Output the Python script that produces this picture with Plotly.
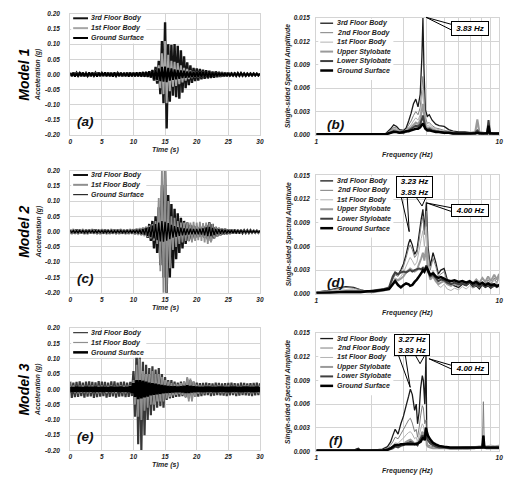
import numpy as np
import plotly.graph_objects as go

# ---------------- DATA ----------------
time_s = np.arange(0, 30.001, 0.25)  # sampling grid (s)

time_names = ["3rd Floor Body", "1st Floor Body", "Ground Surface"]
spec_names = ["3rd Floor Body", "2nd Floor Body", "1st Floor Body",
              "Upper Stylobate", "Lower Stylobate", "Ground Surface"]
model_labels = ["Model 1", "Model 2", "Model 3"]
panel_letters = ["(a)", "(b)", "(c)", "(d)", "(e)", "(f)"]

time_tickvals = [0, 5, 10, 15, 20, 25, 30]
time_ticktext = ["0", "5", "10", "15", "20", "25", "30"]
acc_tickvals = [-0.20, -0.15, -0.10, -0.05, 0.00, 0.05, 0.10, 0.15, 0.20]
acc_ticktext = ["-0.20", "-0.15", "-0.10", "-0.05", "0.00", "0.05", "0.10", "0.15", "0.20"]
freq_tickvals = [1, 2, 3, 4, 5, 6, 7, 8, 9, 10]
freq_ticktext = ["1", "", "", "", "", "", "", "", "", "10"]
amp_tickvals = [0.000, 0.003, 0.006, 0.009, 0.012, 0.015]
amp_ticktext = ["0.000", "0.003", "0.006", "0.009", "0.012", "0.015"]

# Model 1 accelerations (g)
a_3rd = [0.004,-0.005,0.006,-0.004, 0.005,-0.004,0.004,-0.006, 0.006,-0.005,0.004,-0.005,
         0.004,-0.006,0.005,-0.004, 0.005,-0.004,0.006,-0.005, 0.004,-0.005,0.005,-0.004,
         0.006,-0.004,0.005,-0.006, 0.004,-0.005,0.004,-0.005, 0.005,-0.006,0.005,-0.004,
         0.006,-0.004,0.005,-0.005, 0.005,-0.006,0.004,-0.005, 0.006,-0.005,0.007,-0.006,
         0.008,-0.007,0.010,-0.009, 0.015,-0.020,0.025,-0.030, 0.045,-0.065,0.110,-0.095,
         0.172,-0.178,0.100,-0.090, 0.098,-0.070,0.100,-0.075, 0.095,-0.080,0.080,-0.060,
         0.060,-0.045,0.040,-0.035, 0.030,-0.028,0.022,-0.022, 0.020,-0.020,0.018,-0.016,
         0.016,-0.014,0.014,-0.013, 0.012,-0.012,0.010,-0.011, 0.010,-0.009,0.009,-0.008,
         0.008,-0.007,0.007,-0.006, 0.006,-0.005,0.005,-0.005, 0.005,-0.004,0.004,-0.004,
         0.004,-0.004,0.003,-0.004, 0.003,-0.003,0.003,-0.003, 0.003,-0.003,0.002,-0.003,
         0.002]
a_1st = [0.003,-0.003,0.002,-0.003, 0.003,-0.002,0.003,-0.003, 0.002,-0.003,0.003,-0.002,
         0.003,-0.003,0.002,-0.003, 0.003,-0.002,0.003,-0.003, 0.002,-0.003,0.003,-0.002,
         0.003,-0.003,0.002,-0.003, 0.003,-0.002,0.003,-0.003, 0.002,-0.003,0.003,-0.002,
         0.003,-0.003,0.003,-0.003, 0.003,-0.004,0.003,-0.003, 0.004,-0.004,0.005,-0.004,
         0.005,-0.006,0.007,-0.006, 0.010,-0.012,0.015,-0.020, 0.030,-0.045,0.070,-0.065,
         0.110,-0.095,0.065,-0.055, 0.045,-0.040,0.042,-0.038, 0.038,-0.032,0.030,-0.026,
         0.022,-0.020,0.018,-0.015, 0.013,-0.012,0.010,-0.010, 0.009,-0.009,0.008,-0.008,
         0.008,-0.007,0.007,-0.006, 0.006,-0.006,0.005,-0.005, 0.005,-0.005,0.004,-0.004,
         0.004,-0.004,0.004,-0.003, 0.003,-0.003,0.003,-0.003, 0.003,-0.002,0.002,-0.002,
         0.002,-0.002,0.002,-0.002, 0.002,-0.002,0.002,-0.002, 0.002,-0.002,0.002,-0.002,
         0.002]
a_ground = [0.006,-0.005,0.005,-0.007, 0.005,-0.006,0.007,-0.005, 0.006,-0.006,0.005,-0.006,
            0.007,-0.005,0.006,-0.006, 0.005,-0.007,0.006,-0.005, 0.006,-0.005,0.007,-0.006,
            0.005,-0.006,0.005,-0.007, 0.007,-0.006,0.006,-0.005, 0.006,-0.005,0.005,-0.006,
            0.005,-0.007,0.006,-0.006, 0.006,-0.006,0.007,-0.006, 0.007,-0.007,0.008,-0.007,
            0.008,-0.008,0.009,-0.010, 0.012,-0.014,0.015,-0.018, 0.020,-0.022,0.025,-0.024,
            0.026,-0.025,0.022,-0.020, 0.020,-0.018,0.017,-0.016, 0.015,-0.014,0.013,-0.012,
            0.012,-0.011,0.010,-0.010, 0.010,-0.009,0.009,-0.009, 0.009,-0.008,0.008,-0.008,
            0.008,-0.007,0.007,-0.007, 0.007,-0.007,0.006,-0.006, 0.006,-0.006,0.006,-0.005,
            0.005,-0.005,0.005,-0.005, 0.005,-0.004,0.004,-0.004, 0.004,-0.004,0.004,-0.004,
            0.004,-0.003,0.003,-0.004, 0.003,-0.003,0.003,-0.003, 0.003,-0.003,0.003,-0.003,
            0.003]

# Model 2 accelerations (g)
c_3rd = [0.006,-0.007,0.005,-0.006, 0.007,-0.006,0.006,-0.005, 0.005,-0.007,0.006,-0.006,
         0.006,-0.005,0.007,-0.006, 0.007,-0.006,0.005,-0.007, 0.006,-0.006,0.007,-0.005,
         0.005,-0.007,0.006,-0.006, 0.006,-0.005,0.006,-0.007, 0.007,-0.006,0.005,-0.006,
         0.006,-0.007,0.006,-0.005, 0.007,-0.008,0.008,-0.007, 0.009,-0.010,0.012,-0.011,
         0.015,-0.020,0.025,-0.030, 0.035,-0.055,0.050,-0.070, 0.080,-0.110,0.150,-0.150,
         0.200,-0.210,0.120,-0.150, 0.090,-0.120,0.075,-0.090, 0.060,-0.070,0.045,-0.055,
         0.035,-0.040,0.030,-0.030, 0.022,-0.025,0.020,-0.020, 0.018,-0.018,0.015,-0.016,
         0.018,-0.020,0.022,-0.025, 0.030,-0.030,0.025,-0.022, 0.015,-0.015,0.012,-0.012,
         0.010,-0.010,0.009,-0.008, 0.007,-0.007,0.006,-0.006, 0.006,-0.005,0.005,-0.005,
         0.005,-0.004,0.004,-0.004, 0.004,-0.004,0.004,-0.003, 0.003,-0.003,0.003,-0.003,
         0.003]
c_1st = [0.008,-0.007,0.009,-0.008, 0.007,-0.009,0.008,-0.007, 0.009,-0.008,0.007,-0.009,
         0.008,-0.007,0.009,-0.008, 0.007,-0.009,0.008,-0.008, 0.009,-0.008,0.007,-0.009,
         0.008,-0.007,0.009,-0.008, 0.007,-0.009,0.008,-0.007, 0.009,-0.008,0.008,-0.009,
         0.008,-0.007,0.009,-0.008, 0.009,-0.010,0.010,-0.011, 0.012,-0.013,0.014,-0.015,
         0.016,-0.018,0.020,-0.022, 0.025,-0.030,0.035,-0.040, 0.110,-0.130,0.210,-0.210,
         0.210,-0.200,0.100,-0.120, 0.050,-0.060,0.045,-0.050, 0.035,-0.040,0.030,-0.035,
         0.030,-0.030,0.030,-0.032, 0.030,-0.035,0.032,-0.030, 0.030,-0.028,0.032,-0.030,
         0.028,-0.035,0.030,-0.040, 0.028,-0.035,0.025,-0.020, 0.016,-0.015,0.013,-0.012,
         0.011,-0.010,0.009,-0.009, 0.008,-0.008,0.007,-0.007, 0.007,-0.006,0.006,-0.006,
         0.006,-0.005,0.005,-0.005, 0.005,-0.005,0.005,-0.004, 0.004,-0.004,0.004,-0.004,
         0.004]
c_ground = [0.004,-0.003,0.004,-0.004, 0.003,-0.004,0.004,-0.003, 0.004,-0.004,0.003,-0.004,
            0.004,-0.003,0.004,-0.004, 0.003,-0.004,0.004,-0.003, 0.004,-0.004,0.003,-0.004,
            0.004,-0.003,0.004,-0.004, 0.003,-0.004,0.004,-0.003, 0.004,-0.004,0.003,-0.004,
            0.004,-0.003,0.004,-0.004, 0.005,-0.005,0.006,-0.006, 0.007,-0.008,0.009,-0.010,
            0.012,-0.014,0.015,-0.018, 0.020,-0.022,0.025,-0.028, 0.030,-0.032,0.035,-0.033,
            0.032,-0.030,0.028,-0.025, 0.022,-0.020,0.018,-0.017, 0.015,-0.014,0.013,-0.012,
            0.011,-0.011,0.010,-0.010, 0.010,-0.009,0.009,-0.009, 0.009,-0.009,0.010,-0.010,
            0.011,-0.012,0.014,-0.015, 0.016,-0.015,0.012,-0.011, 0.009,-0.008,0.008,-0.007,
            0.007,-0.006,0.006,-0.006, 0.005,-0.005,0.005,-0.005, 0.004,-0.004,0.004,-0.004,
            0.004,-0.003,0.003,-0.003, 0.003,-0.003,0.003,-0.003, 0.003,-0.003,0.003,-0.003,
            0.003]

# Model 3 accelerations (g)
e_3rd = [0.025,-0.028,0.022,-0.026, 0.024,-0.025,0.026,-0.022, 0.022,-0.027,0.025,-0.024,
         0.026,-0.023,0.024,-0.028, 0.023,-0.026,0.027,-0.024, 0.025,-0.022,0.024,-0.027,
         0.022,-0.025,0.026,-0.023, 0.026,-0.027,0.022,-0.024, 0.024,-0.023,0.025,-0.026,
         0.022,-0.025,0.024,-0.022, 0.060,-0.090,0.140,-0.180, 0.120,-0.200,0.090,-0.150,
         0.080,-0.100,0.070,-0.085, 0.075,-0.070,0.065,-0.060, 0.070,-0.055,0.050,-0.060,
         0.040,-0.035,0.030,-0.030, 0.030,-0.028,0.025,-0.025, 0.022,-0.024,0.025,-0.022,
         0.025,-0.025,0.035,-0.030, 0.030,-0.030,0.025,-0.025, 0.022,-0.024,0.020,-0.022,
         0.021,-0.020,0.022,-0.019, 0.020,-0.022,0.019,-0.021, 0.022,-0.019,0.021,-0.020,
         0.019,-0.021,0.020,-0.022, 0.021,-0.020,0.022,-0.019, 0.020,-0.022,0.019,-0.021,
         0.022,-0.019,0.021,-0.020, 0.019,-0.021,0.020,-0.022, 0.021,-0.020,0.022,-0.019,
         0.020]
e_1st = [0.012,-0.011,0.013,-0.012, 0.011,-0.013,0.012,-0.011, 0.013,-0.012,0.011,-0.013,
         0.012,-0.011,0.013,-0.012, 0.011,-0.013,0.012,-0.012, 0.013,-0.012,0.011,-0.013,
         0.012,-0.011,0.013,-0.012, 0.011,-0.013,0.012,-0.011, 0.013,-0.012,0.012,-0.013,
         0.012,-0.011,0.013,-0.012, 0.030,-0.050,0.080,-0.090, 0.100,-0.100,0.060,-0.070,
         0.050,-0.060,0.050,-0.050, 0.060,-0.050,0.050,-0.040, 0.050,-0.040,0.040,-0.040,
         0.030,-0.030,0.025,-0.025, 0.020,-0.020,0.018,-0.018, 0.016,-0.016,0.020,-0.018,
         0.025,-0.028,0.040,-0.040, 0.035,-0.040,0.025,-0.025, 0.015,-0.015,0.013,-0.013,
         0.012,-0.013,0.012,-0.011, 0.013,-0.012,0.011,-0.012, 0.012,-0.011,0.013,-0.012,
         0.011,-0.012,0.012,-0.013, 0.013,-0.011,0.012,-0.012, 0.012,-0.013,0.011,-0.012,
         0.011,-0.012,0.013,-0.011, 0.013,-0.012,0.012,-0.013, 0.012,-0.011,0.011,-0.012,
         0.012]
e_ground = [0.008,-0.009,0.007,-0.008, 0.009,-0.008,0.008,-0.007, 0.007,-0.008,0.009,-0.008,
            0.008,-0.007,0.008,-0.009, 0.009,-0.008,0.007,-0.008, 0.008,-0.009,0.008,-0.007,
            0.007,-0.008,0.009,-0.008, 0.008,-0.007,0.008,-0.009, 0.009,-0.008,0.007,-0.008,
            0.008,-0.009,0.010,-0.012, 0.020,-0.025,0.030,-0.032, 0.030,-0.030,0.028,-0.026,
            0.025,-0.024,0.022,-0.020, 0.020,-0.018,0.018,-0.016, 0.016,-0.015,0.014,-0.013,
            0.012,-0.012,0.011,-0.011, 0.010,-0.010,0.010,-0.009, 0.009,-0.009,0.010,-0.010,
            0.011,-0.012,0.013,-0.012, 0.011,-0.010,0.010,-0.009, 0.009,-0.008,0.008,-0.009,
            0.008,-0.009,0.009,-0.008, 0.009,-0.008,0.008,-0.009, 0.008,-0.009,0.009,-0.008,
            0.009,-0.008,0.008,-0.009, 0.008,-0.009,0.009,-0.008, 0.009,-0.008,0.008,-0.009,
            0.008,-0.009,0.009,-0.008, 0.009,-0.008,0.008,-0.009, 0.008,-0.009,0.009,-0.008,
            0.008]

# Model 1 spectra
b_freq = [1.0, 1.2, 1.5, 1.8, 2.0, 2.2, 2.4, 2.55, 2.65, 2.75, 2.85,
          3.0, 3.1, 3.2, 3.3, 3.4, 3.5, 3.6, 3.7, 3.78, 3.83, 3.88,
          3.95, 4.05, 4.15, 4.3, 4.5, 4.7, 5.0, 5.3, 5.6, 6.0, 6.5,
          7.0, 7.4, 7.6, 7.8, 8.2, 8.6, 8.75, 8.9, 9.3, 10.0]
b_3rd = [0.0001,0.0001,0.0001,0.0001,0.0001,0.0001,0.0002,0.0008,0.0013,0.0011,0.0007,
         0.0006,0.0009,0.0018,0.0028,0.0040,0.0046,0.0036,0.0052,0.0100,0.0150,0.0085,
         0.0032,0.0024,0.0026,0.0019,0.0014,0.0012,0.0011,0.0007,0.0005,0.0004,0.0004,
         0.0003,0.0003,0.0004,0.0003,0.0003,0.0003,0.0006,0.0003,0.0002,0.0002]
b_2nd = [0.0001,0.0001,0.0001,0.0001,0.0001,0.0001,0.0002,0.0006,0.0010,0.0009,0.0006,
         0.0005,0.0007,0.0013,0.0018,0.0025,0.0030,0.0026,0.0035,0.0060,0.0075,0.0050,
         0.0022,0.0015,0.0016,0.0012,0.0009,0.0008,0.0006,0.0005,0.0004,0.0003,0.0003,
         0.0003,0.0003,0.0004,0.0003,0.0003,0.0002,0.0004,0.0002,0.0002,0.0002]
b_1st = [0.0001,0.0001,0.0001,0.0001,0.0001,0.0001,0.0001,0.0005,0.0009,0.0008,0.0005,
         0.0004,0.0006,0.0010,0.0013,0.0018,0.0022,0.0019,0.0026,0.0045,0.0058,0.0038,
         0.0017,0.0012,0.0013,0.0010,0.0008,0.0007,0.0005,0.0004,0.0003,0.0003,0.0003,
         0.0003,0.0004,0.0012,0.0004,0.0003,0.0002,0.0003,0.0002,0.0002,0.0002]
b_upper = [0.0001,0.0001,0.0001,0.0001,0.0001,0.0001,0.0001,0.0004,0.0007,0.0006,0.0004,
           0.0003,0.0005,0.0008,0.0010,0.0013,0.0016,0.0014,0.0019,0.0032,0.0040,0.0028,
           0.0012,0.0009,0.0010,0.0008,0.0006,0.0005,0.0004,0.0003,0.0003,0.0002,0.0002,
           0.0003,0.0004,0.0020,0.0004,0.0003,0.0002,0.0003,0.0002,0.0002,0.0002]
b_lower = [0.0001,0.0001,0.0001,0.0001,0.0001,0.0001,0.0001,0.0003,0.0005,0.0004,0.0003,
           0.0003,0.0004,0.0006,0.0008,0.0010,0.0012,0.0011,0.0014,0.0020,0.0025,0.0018,
           0.0009,0.0007,0.0008,0.0006,0.0005,0.0004,0.0003,0.0003,0.0002,0.0002,0.0002,
           0.0002,0.0003,0.0006,0.0003,0.0002,0.0003,0.0019,0.0003,0.0002,0.0002]
b_ground = [0.0001,0.0001,0.0001,0.0001,0.0001,0.0001,0.0001,0.0003,0.0004,0.0004,0.0003,
            0.0004,0.0005,0.0005,0.0006,0.0007,0.0008,0.0008,0.0010,0.0013,0.0015,0.0012,
            0.0008,0.0006,0.0006,0.0005,0.0004,0.0004,0.0003,0.0003,0.0002,0.0002,0.0002,
            0.0002,0.0002,0.0003,0.0002,0.0002,0.0002,0.0012,0.0002,0.0002,0.0002]

# Model 2 spectra
d_freq = [1.0,1.15,1.3,1.45,1.6,1.75,1.9,2.05,2.2,2.35,
          2.5,2.62,2.7,2.8,2.9,3.0,3.1,3.2,3.26,3.35,
          3.45,3.55,3.65,3.75,3.83,3.9,4.0,4.08,4.2,4.35,
          4.5,4.65,4.8,5.0,5.2,5.45,5.7,6.0,6.3,6.6,
          6.9,7.2,7.5,7.8,8.1,8.4,8.7,9.0,9.4,9.7,10.0]
d_3rd = [0.0002,0.0004,0.0007,0.0009,0.0008,0.0005,0.0003,0.0003,0.0004,0.0005,
         0.0007,0.0020,0.0026,0.0024,0.0030,0.0038,0.0050,0.0064,0.0069,0.0062,
         0.0050,0.0055,0.0075,0.0095,0.0107,0.0080,0.0116,0.0060,0.0035,0.0052,
         0.0040,0.0025,0.0030,0.0032,0.0018,0.0012,0.0010,0.0008,0.0012,0.0010,
         0.0014,0.0008,0.0010,0.0006,0.0012,0.0008,0.0010,0.0007,0.0012,0.0008,0.0010]
d_2nd = [0.0002,0.0004,0.0006,0.0008,0.0007,0.0005,0.0003,0.0003,0.0004,0.0005,
         0.0007,0.0018,0.0024,0.0022,0.0028,0.0035,0.0046,0.0058,0.0062,0.0056,
         0.0046,0.0050,0.0068,0.0088,0.0098,0.0075,0.0105,0.0055,0.0030,0.0045,
         0.0035,0.0022,0.0025,0.0028,0.0016,0.0010,0.0012,0.0009,0.0014,0.0011,
         0.0016,0.0010,0.0013,0.0009,0.0015,0.0010,0.0018,0.0012,0.0020,0.0014,0.0022]
d_1st = [0.0002,0.0003,0.0004,0.0005,0.0005,0.0004,0.0003,0.0003,0.0003,0.0004,
         0.0006,0.0014,0.0020,0.0018,0.0022,0.0027,0.0035,0.0042,0.0046,0.0042,
         0.0036,0.0040,0.0055,0.0070,0.0080,0.0060,0.0085,0.0040,0.0020,0.0030,
         0.0022,0.0010,0.0008,0.0012,0.0006,0.0004,0.0007,0.0005,0.0009,0.0006,
         0.0010,0.0007,0.0011,0.0008,0.0013,0.0009,0.0015,0.0010,0.0018,0.0012,0.0020]
d_upper = [0.0001,0.0002,0.0003,0.0003,0.0003,0.0003,0.0002,0.0002,0.0003,0.0004,
           0.0006,0.0012,0.0018,0.0017,0.0019,0.0022,0.0027,0.0030,0.0032,0.0030,
           0.0028,0.0030,0.0038,0.0045,0.0052,0.0042,0.0060,0.0030,0.0018,0.0022,
           0.0016,0.0012,0.0014,0.0016,0.0012,0.0010,0.0013,0.0011,0.0015,0.0012,
           0.0016,0.0013,0.0018,0.0014,0.0020,0.0015,0.0022,0.0016,0.0024,0.0018,0.0025]
d_lower = [0.0001,0.0002,0.0002,0.0003,0.0003,0.0003,0.0003,0.0004,0.0005,0.0006,
           0.0008,0.0022,0.0027,0.0025,0.0027,0.0028,0.0027,0.0029,0.0030,0.0028,
           0.0030,0.0031,0.0032,0.0031,0.0033,0.0030,0.0036,0.0028,0.0022,0.0024,
           0.0020,0.0016,0.0018,0.0017,0.0014,0.0012,0.0014,0.0012,0.0013,0.0011,
           0.0014,0.0010,0.0012,0.0009,0.0011,0.0009,0.0012,0.0008,0.0010,0.0009,0.0010]
d_ground = [0.0001,0.0001,0.0002,0.0002,0.0002,0.0002,0.0003,0.0003,0.0004,0.0005,
            0.0006,0.0012,0.0016,0.0011,0.0008,0.0011,0.0013,0.0012,0.0010,0.0011,
            0.0015,0.0018,0.0022,0.0026,0.0030,0.0028,0.0034,0.0030,0.0024,0.0026,
            0.0022,0.0020,0.0021,0.0019,0.0017,0.0016,0.0017,0.0015,0.0016,0.0014,
            0.0016,0.0013,0.0015,0.0012,0.0014,0.0011,0.0013,0.0011,0.0012,0.0010,0.0011]

# Model 3 spectra
f_freq = [1.0,1.2,1.4,1.6,1.65,1.7,1.75,1.9,2.1,2.3,
          2.45,2.55,2.62,2.7,2.8,2.9,3.0,3.1,3.2,3.27,
          3.35,3.45,3.52,3.58,3.65,3.72,3.8,3.85,3.92,3.98,
          4.02,4.08,4.2,4.35,4.5,4.7,5.0,5.4,5.8,6.3,
          6.8,7.3,7.8,8.1,8.2,8.3,8.5,9.0,9.5,10.0]
f_3rd = [0.0001,0.0001,0.0001,0.0001,0.0003,0.0004,0.0001,0.0001,0.0002,0.0003,
         0.0006,0.0012,0.0020,0.0028,0.0022,0.0035,0.0045,0.0058,0.0070,0.0079,
         0.0072,0.0052,0.0060,0.0035,0.0050,0.0080,0.0096,0.0090,0.0060,0.0122,
         0.0020,0.0014,0.0012,0.0009,0.0007,0.0006,0.0005,0.0004,0.0004,0.0004,
         0.0004,0.0004,0.0005,0.0006,0.0020,0.0006,0.0005,0.0004,0.0005,0.0004]
f_2nd = [0.0001,0.0001,0.0001,0.0001,0.0002,0.0003,0.0001,0.0001,0.0001,0.0002,
         0.0004,0.0008,0.0012,0.0018,0.0016,0.0022,0.0028,0.0034,0.0040,0.0042,
         0.0036,0.0025,0.0028,0.0018,0.0030,0.0045,0.0058,0.0055,0.0035,0.0040,
         0.0012,0.0008,0.0007,0.0006,0.0005,0.0004,0.0004,0.0003,0.0003,0.0003,
         0.0003,0.0004,0.0004,0.0005,0.0063,0.0005,0.0004,0.0004,0.0004,0.0004]
f_1st = [0.0001,0.0001,0.0001,0.0001,0.0001,0.0002,0.0001,0.0001,0.0001,0.0002,
         0.0003,0.0005,0.0008,0.0011,0.0010,0.0014,0.0017,0.0021,0.0024,0.0025,
         0.0022,0.0016,0.0018,0.0012,0.0020,0.0028,0.0035,0.0033,0.0022,0.0026,
         0.0008,0.0006,0.0005,0.0004,0.0004,0.0004,0.0004,0.0004,0.0005,0.0005,
         0.0006,0.0006,0.0007,0.0007,0.0009,0.0007,0.0007,0.0008,0.0007,0.0008]
f_upper = [0.0001,0.0001,0.0001,0.0001,0.0001,0.0001,0.0001,0.0001,0.0001,0.0001,
           0.0002,0.0003,0.0005,0.0007,0.0006,0.0008,0.0010,0.0012,0.0014,0.0015,
           0.0013,0.0010,0.0011,0.0008,0.0013,0.0018,0.0025,0.0023,0.0016,0.0022,
           0.0008,0.0006,0.0005,0.0004,0.0004,0.0004,0.0004,0.0004,0.0004,0.0005,
           0.0005,0.0005,0.0006,0.0006,0.0012,0.0006,0.0006,0.0006,0.0006,0.0007]
f_lower = [0.0001,0.0001,0.0001,0.0001,0.0001,0.0001,0.0001,0.0001,0.0001,0.0001,
           0.0002,0.0003,0.0004,0.0006,0.0005,0.0007,0.0008,0.0010,0.0011,0.0012,
           0.0011,0.0009,0.0010,0.0008,0.0012,0.0016,0.0020,0.0020,0.0018,0.0030,
           0.0018,0.0014,0.0010,0.0008,0.0006,0.0005,0.0005,0.0004,0.0004,0.0004,
           0.0004,0.0004,0.0005,0.0005,0.0015,0.0005,0.0004,0.0004,0.0004,0.0004]
f_ground = [0.0001,0.0001,0.0001,0.0001,0.0001,0.0002,0.0001,0.0001,0.0001,0.0001,
            0.0002,0.0004,0.0006,0.0008,0.0008,0.0009,0.0009,0.0009,0.0009,0.0009,
            0.0009,0.0009,0.0009,0.0010,0.0011,0.0012,0.0016,0.0018,0.0014,0.0030,
            0.0025,0.0020,0.0015,0.0011,0.0009,0.0007,0.0006,0.0005,0.0005,0.0005,
            0.0005,0.0005,0.0005,0.0005,0.0020,0.0005,0.0005,0.0005,0.0005,0.0005]

callouts_b = ["3.83 Hz"]
callouts_d = ["3.23 Hz<br>3.83 Hz", "4.00 Hz"]
callouts_f = ["3.27 Hz<br>3.83 Hz", "4.00 Hz"]

# ---------------- STYLE / LAYOUT ----------------
W, H = 515, 481
def PX(x): return x / W
def PY(y): return 1 - y / H

FONT = "Liberation Sans, Arial, sans-serif"
GRID = "#d4d4d4"
TXT = "#1e1e1e"

time_rows = [(10, 133), (169, 293), (329, 453)]
spec_rows = [(14, 133), (174, 294), (334, 454)]
TX0, TX1 = 69, 261
SX0, SX1 = 318, 503

time_series = [
    [(a_3rd, "#141414", 2.4), (a_1st, "#a6a6a6", 2.0), (a_ground, "#000000", 2.0)],
    [(c_3rd, "#111111", 2.4), (c_1st, "#8f8f8f", 1.8), (c_ground, "#000000", 1.4)],
    [(e_3rd, "#383838", 2.2), (e_1st, "#8f8f8f", 1.8), (e_ground, "#000000", 2.8)],
]
time_legend_w = [[2, 2, 2], [2, 2, 1], [1.2, 1.2, 2.5]]
spec_styles = [("#1a1a1a", 1.3), ("#7f7f7f", 1.0), ("#b3b3b3", 1.0),
               ("#9a9a9a", 2.0), ("#404040", 2.0), ("#000000", 2.5)]
spec_data = [
    (b_freq, [b_3rd, b_2nd, b_1st, b_upper, b_lower, b_ground]),
    (d_freq, [d_3rd, d_2nd, d_1st, d_upper, d_lower, d_ground]),
    (f_freq, [f_3rd, f_2nd, f_1st, f_upper, f_lower, f_ground]),
]

fig = go.Figure()
layout = dict(width=W, height=H, autosize=False, margin=dict(l=0, r=0, t=0, b=0),
              paper_bgcolor="white", plot_bgcolor="white", showlegend=False)

tickfont = dict(family=FONT, size=6.5, color=TXT, weight="bold", style="italic")
shapes, annotations = [], []

def txt(x, y, s, size, xanchor="center", yanchor="middle", angle=0, color=TXT):
    annotations.append(dict(x=PX(x), y=PY(y), xref="paper", yref="paper", text=s,
                            showarrow=False, xanchor=xanchor, yanchor=yanchor,
                            textangle=angle,
                            font=dict(family=FONT, size=size, color=color,
                                      weight="bold", style="italic")))

for r in range(3):
    # time panel
    k = 2 * r + 1
    xa = "xaxis" if k == 1 else f"xaxis{k}"
    ya = "yaxis" if k == 1 else f"yaxis{k}"
    xr = "x" if k == 1 else f"x{k}"
    yr = "y" if k == 1 else f"y{k}"
    y0, y1 = time_rows[r]
    layout[xa] = dict(domain=[PX(TX0), PX(TX1)], anchor=yr, range=[0, 30],
                      tickvals=time_tickvals, ticktext=time_ticktext, tickfont=tickfont,
                      showgrid=True, gridcolor=GRID, gridwidth=1, zeroline=False,
                      showline=True, linecolor=GRID, mirror=True, ticks="")
    layout[ya] = dict(domain=[PY(y1), PY(y0)], anchor=xr, range=[-0.2, 0.2],
                      tickvals=acc_tickvals, ticktext=acc_ticktext, tickfont=tickfont,
                      showgrid=True, gridcolor=GRID, gridwidth=1, zeroline=False,
                      showline=True, linecolor=GRID, mirror=True, ticks="",
                      ticklabelstandoff=8)
    for vals, col, w in time_series[r]:
        fig.add_trace(go.Scatter(x=time_s, y=vals, mode="lines",
                                 line=dict(color=col, width=w, simplify=False),
                                 xaxis=xr, yaxis=yr, hoverinfo="skip"))
    # legend
    shapes.append(dict(type="rect", xref="paper", yref="paper",
                       x0=PX(70), x1=PX(146), y0=PY(y0 + 30), y1=PY(y0 + 1),
                       fillcolor="white", line=dict(width=0), layer="above"))
    for i, name in enumerate(time_names):
        ly = y0 + 4.5 + 10 * i
        shapes.append(dict(type="line", xref="paper", yref="paper",
                           x0=PX(72), x1=PX(87), y0=PY(ly), y1=PY(ly),
                           line=dict(color=time_series[r][i][1], width=time_legend_w[r][i])))
        txt(88.5, ly, name, 7, xanchor="left")
    # titles
    txt(165, y1 + 15, "Time (s)", 7)
    txt(37, (y0 + y1) / 2, "Acceleration (g)", 6.8, angle=-90)
    txt(22, (y0 + y1) / 2 + 0.5, model_labels[r], 14, angle=-90, color="#000000")
    txt(84, y1 - 14, panel_letters[2 * r], 13.5, color="#111111")

    # spectrum panel
    k = 2 * r + 2
    xa, ya, xr, yr = f"xaxis{k}", f"yaxis{k}", f"x{k}", f"y{k}"
    y0, y1 = spec_rows[r]
    layout[xa] = dict(domain=[PX(SX0), PX(SX1)], anchor=yr, type="log", range=[0, 1],
                      tickvals=freq_tickvals, ticktext=freq_ticktext, tickfont=tickfont,
                      showgrid=True, gridcolor=GRID, gridwidth=1, zeroline=False,
                      showline=True, linecolor=GRID, mirror=True, ticks="")
    layout[ya] = dict(domain=[PY(y1), PY(y0)], anchor=xr, range=[0, 0.015],
                      tickvals=amp_tickvals, ticktext=amp_ticktext, tickfont=tickfont,
                      showgrid=True, gridcolor=GRID, gridwidth=1, zeroline=False,
                      showline=True, linecolor=GRID, mirror=True, ticks="",
                      ticklabelstandoff=4)
    freq, series = spec_data[r]
    for vals, (col, w) in zip(series, spec_styles):
        fig.add_trace(go.Scatter(x=freq, y=vals, mode="lines",
                                 line=dict(color=col, width=w, simplify=False),
                                 xaxis=xr, yaxis=yr, hoverinfo="skip"))
    shapes.append(dict(type="rect", xref="paper", yref="paper",
                       x0=PX(320), x1=PX(396), y0=PY(y0 + 63), y1=PY(y0 + 1),
                       fillcolor="white", line=dict(width=0), layer="above"))
    for i, name in enumerate(spec_names):
        ly = y0 + 5.5 + 9.6 * i
        shapes.append(dict(type="line", xref="paper", yref="paper",
                           x0=PX(322), x1=PX(335), y0=PY(ly), y1=PY(ly),
                           line=dict(color=spec_styles[i][0], width=spec_styles[i][1])))
        txt(337, ly, name, 7, xanchor="left")
    txt(410, y1 + 20, "Frequency (Hz)", 7)
    txt(290, (y0 + y1) / 2, "Single-sided Spectral Amplitude", 6.8, angle=-90)
    txt(338, y1 - 11, panel_letters[2 * r + 1], 13.5, color="#111111")

def box(cx, cy, w, h, s):
    annotations.append(dict(x=PX(cx), y=PY(cy), xref="paper", yref="paper", text=s,
                            showarrow=False, xanchor="center", yanchor="middle",
                            width=w, height=h, bgcolor="white", bordercolor="#000000",
                            borderwidth=1, borderpad=0, align="center",
                            font=dict(family=FONT, size=8, color="#000000",
                                      weight="bold", style="italic")))

def pointer(pts):
    path = "M " + " L ".join(f"{PX(x):.5f},{PY(y):.5f}" for x, y in pts)
    shapes.append(dict(type="path", xref="paper", yref="paper", path=path,
                       line=dict(color="#000000", width=1), layer="above"))

# (b)
pointer([(456, 21), (429, 13.5), (456, 27)])
box(474, 24.5, 36, 13, callouts_b[0])
# (d)
pointer([(404, 196), (412, 231), (410, 196)])
pointer([(419, 196), (425, 205), (429, 196)])
pointer([(456, 207), (430, 202), (456, 211)])
box(417.5, 185.5, 35, 20, callouts_d[0])
box(474, 209.5, 36, 11, callouts_d[1])
# (f)
pointer([(401, 356), (413, 389), (408, 356)])
pointer([(418, 356), (423, 365), (428, 356)])
pointer([(456, 367), (432, 360), (456, 371)])
box(414.5, 346, 34, 20, callouts_f[0])
box(474, 370, 36, 11, callouts_f[1])

layout["shapes"] = shapes
layout["annotations"] = annotations
fig.update_layout(**layout)
fig.write_html("out.html")
